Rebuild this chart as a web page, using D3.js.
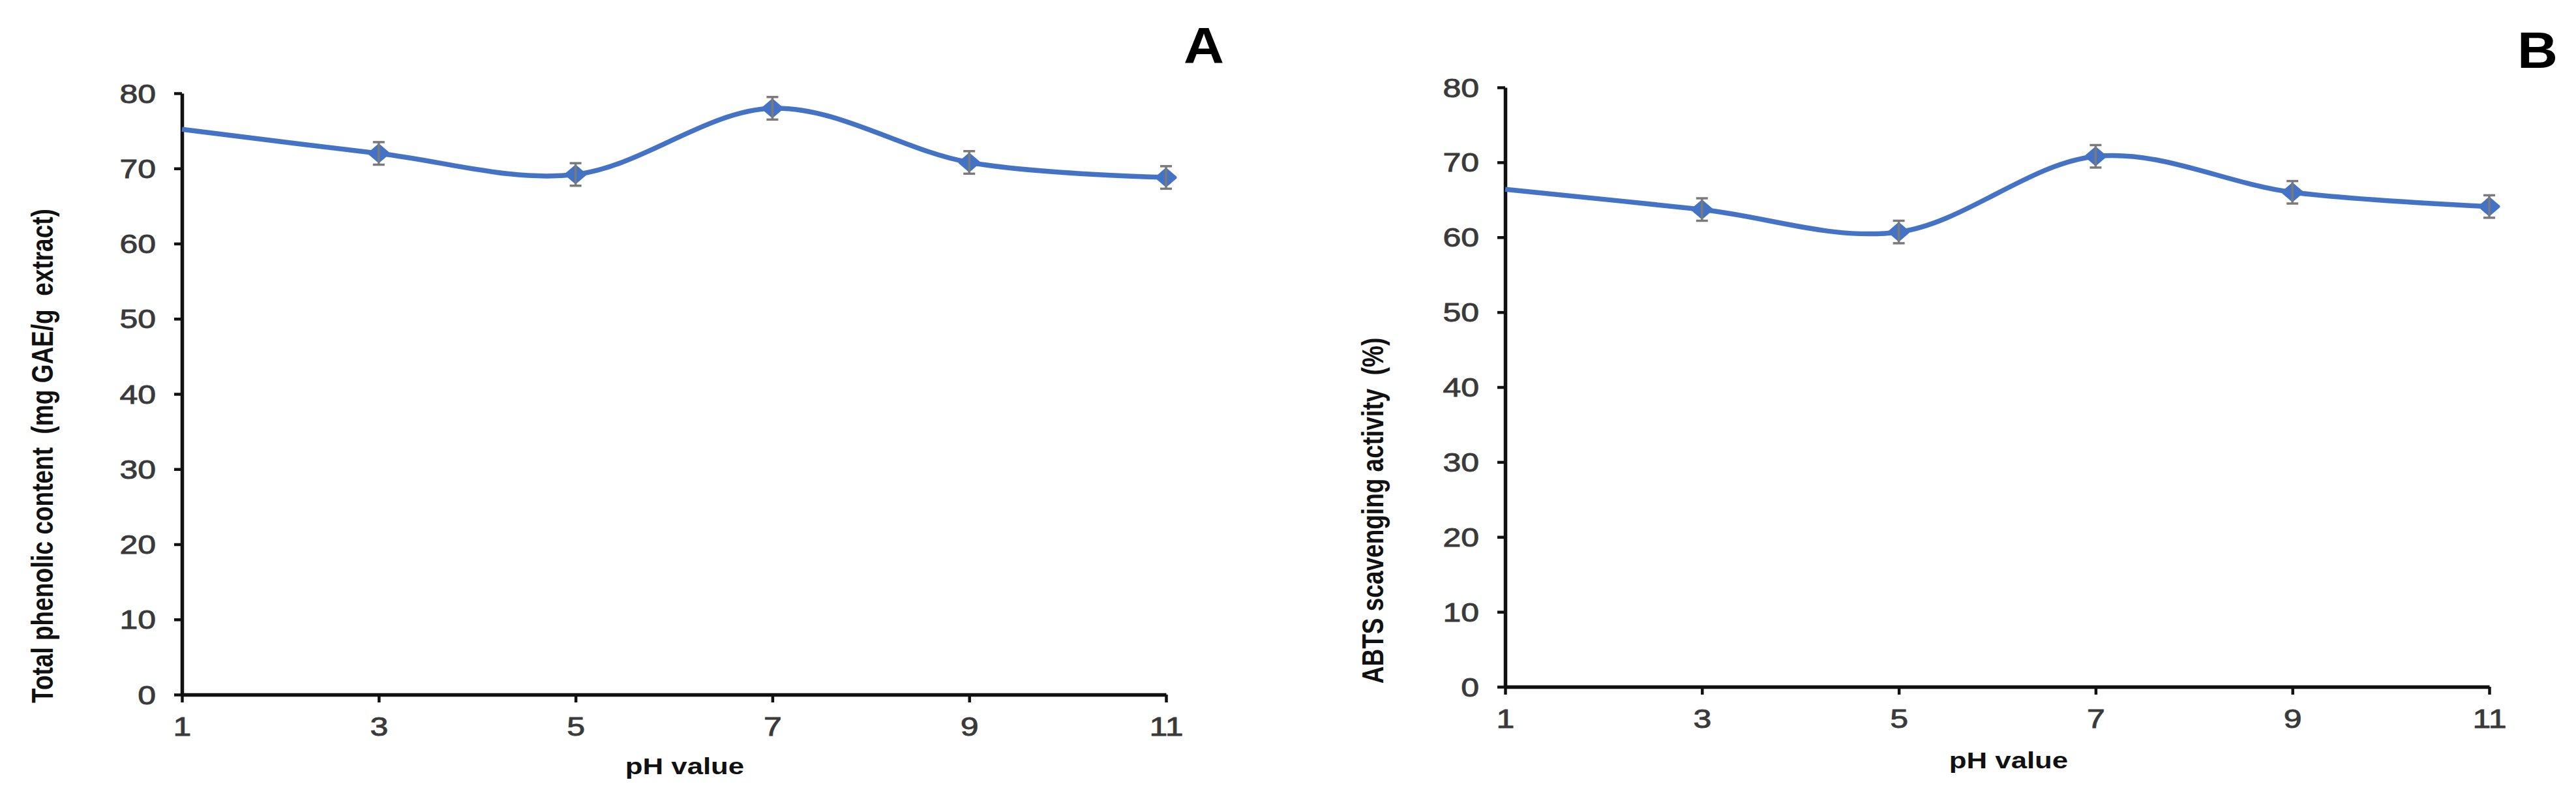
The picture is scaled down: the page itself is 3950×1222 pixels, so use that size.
<!DOCTYPE html>
<html>
<head>
<meta charset="utf-8">
<script src="https://cdn.jsdelivr.net/npm/d3@7/dist/d3.min.js"></script>
<style>
  html, body { margin: 0; padding: 0; background: #ffffff; }
  svg { display: block; }
  text.pre { white-space: pre; }
</style>
</head>
<body>
<svg id="chart" width="3950" height="1222"></svg>
<script>
// ---- data ----
const phValues = [1, 3, 5, 7, 9, 11];
const xTicks = [1, 3, 5, 7, 9, 11];
const yTicks = [0, 10, 20, 30, 40, 50, 60, 70, 80];

const tpcValues = [75.2, 72.0, 69.2, 78.0, 70.8, 68.8];
const tpcErrors = [1.5, 1.5, 1.5, 1.5, 1.5, 1.5];
const abtsValues = [66.4, 63.7, 60.7, 70.8, 66.0, 64.1];
const abtsErrors = [1.5, 1.5, 1.5, 1.5, 1.5, 1.5];
const markerShown = [false, true, true, true, true, true];

const panelLetters = ["A", "B"];
const yTitles = ["Total phenolic content  (mg GAE/g  extract)", "ABTS scavenging activity  (%)"];
const xTitle = "pH value";

// ---- layout ----
const panels = [
  { values: tpcValues, errors: tpcErrors, letter: panelLetters[0], yTitle: yTitles[0],
    x0: 279, x1: 1788, yTop: 143, yBot: 1065, yTitleX: 81, yTitleY: 699,
    xTitleX: 1050, xTitleY: 1187, letterX: 1846, letterY: 97 },
  { values: abtsValues, errors: abtsErrors, letter: panelLetters[1], yTitle: yTitles[1],
    x0: 2308, x1: 3817, yTop: 134, yBot: 1053, yTitleX: 2121, yTitleY: 783,
    xTitleX: 3080, xTitleY: 1178, letterX: 3891, letterY: 104 }
];

const STRETCH = 1.25;
const FONT = "'Liberation Sans', Arial, Helvetica, sans-serif";
const BLUE = "#4472C4";

const svg = d3.select("#chart");
svg.append("rect").attr("width", 3950).attr("height", 1222).attr("fill", "#fff");

panels.forEach(p => {
  const x = d3.scaleLinear().domain([1, 11]).range([p.x0, p.x1]);
  const y = d3.scaleLinear().domain([0, 80]).range([p.yBot, p.yTop]);
  const g = svg.append("g");

  // y axis
  const yAxis = g.append("g")
    .attr("transform", `translate(${p.x0},0)`)
    .call(d3.axisLeft(y).tickValues(yTicks).tickSize(12).tickSizeOuter(0).tickFormat(d3.format("d")));
  yAxis.select(".domain").attr("stroke", "#111").attr("stroke-width", 5.5);
  yAxis.selectAll(".tick line").attr("stroke", "#111").attr("stroke-width", 4.5);
  yAxis.selectAll(".tick text")
    .attr("x", -40 / STRETCH)
    .attr("dy", "0.35em")
    .attr("transform", `scale(${STRETCH},1)`)
    .style("font-family", FONT)
    .style("font-size", "40px")
    .attr("fill", "#3a3a3a")
    .attr("stroke", "#3a3a3a")
    .attr("stroke-width", 0.9);

  // x axis
  const xAxis = g.append("g")
    .attr("transform", `translate(0,${p.yBot})`)
    .call(d3.axisBottom(x).tickValues(xTicks).tickSize(12).tickSizeOuter(0).tickFormat(d3.format("d")));
  xAxis.select(".domain").attr("stroke", "#111").attr("stroke-width", 5.5);
  xAxis.selectAll(".tick line").attr("stroke", "#111").attr("stroke-width", 4.5);
  xAxis.selectAll(".tick text")
    .attr("y", 63)
    .attr("dy", 0)
    .attr("transform", `scale(${STRETCH},1)`)
    .style("font-family", FONT)
    .style("font-size", "40px")
    .attr("fill", "#3a3a3a")
    .attr("stroke", "#3a3a3a")
    .attr("stroke-width", 0.9);

  const pts = phValues.map((ph, i) => ({ ph, v: p.values[i], e: p.errors[i], show: markerShown[i] }));

  // smoothed line
  const line = d3.line().x(d => x(d.ph)).y(d => y(d.v)).curve(d3.curveCatmullRom.alpha(0));
  g.append("path").datum(pts)
    .attr("d", line)
    .attr("fill", "none")
    .attr("stroke", BLUE)
    .attr("stroke-width", 7.5)
    .attr("stroke-linejoin", "round");

  // markers (diamonds)
  const shown = pts.filter(d => d.show);
  g.selectAll(".marker").data(shown).enter().append("path")
    .attr("d", d => {
      const cx = x(d.ph), cy = y(d.v), hw = 14, hh = 12;
      return `M${cx},${cy - hh}L${cx + hw},${cy}L${cx},${cy + hh}L${cx - hw},${cy}Z`;
    })
    .attr("fill", BLUE)
    .attr("stroke", BLUE)
    .attr("stroke-width", 5)
    .attr("stroke-linejoin", "round");

  // error bars
  const eb = g.selectAll(".eb").data(shown).enter().append("g").attr("stroke", "#7a7a7a").attr("stroke-width", 3.5);
  eb.append("line")
    .attr("x1", d => x(d.ph)).attr("x2", d => x(d.ph))
    .attr("y1", d => y(d.v + d.e)).attr("y2", d => y(d.v - d.e));
  eb.append("line")
    .attr("x1", d => x(d.ph) - 9).attr("x2", d => x(d.ph) + 9)
    .attr("y1", d => y(d.v + d.e)).attr("y2", d => y(d.v + d.e));
  eb.append("line")
    .attr("x1", d => x(d.ph) - 9).attr("x2", d => x(d.ph) + 9)
    .attr("y1", d => y(d.v - d.e)).attr("y2", d => y(d.v - d.e));

  // y title
  g.append("text")
    .attr("class", "pre")
    .attr("xml:space", "preserve")
    .attr("transform", `translate(${p.yTitleX},${p.yTitleY}) scale(${STRETCH},1) rotate(-90)`)
    .attr("text-anchor", "middle")
    .style("font-family", FONT)
    .style("font-size", "37px")
    .style("font-weight", "bold")
    .attr("fill", "#111")
    .text(p.yTitle);

  // x title
  g.append("text")
    .attr("transform", `translate(${p.xTitleX},${p.xTitleY}) scale(${STRETCH},1)`)
    .attr("text-anchor", "middle")
    .style("font-family", FONT)
    .style("font-size", "35px")
    .style("font-weight", "bold")
    .attr("fill", "#111")
    .text(xTitle);

  // panel letter
  g.append("text")
    .attr("transform", `translate(${p.letterX},${p.letterY}) scale(1.1,1)`)
    .attr("text-anchor", "middle")
    .style("font-family", FONT)
    .style("font-size", "78px")
    .style("font-weight", "bold")
    .attr("fill", "#000")
    .text(p.letter);
});
</script>
</body>
</html>
